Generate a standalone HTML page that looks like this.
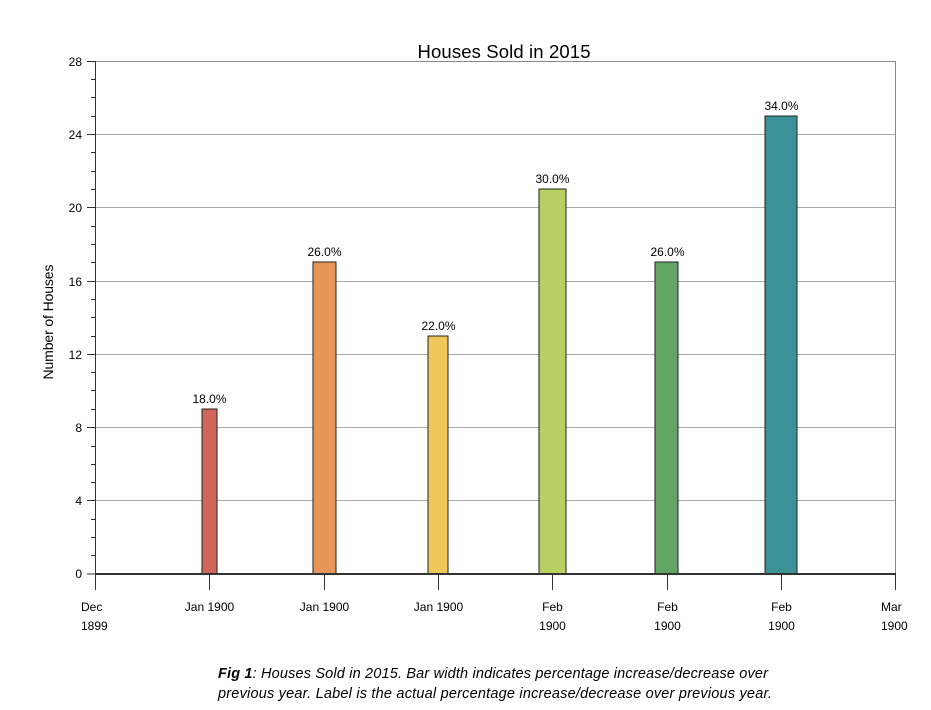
<!DOCTYPE html>
<html><head><meta charset="utf-8"><style>
body{margin:0;background:#fff;width:931px;height:705px;overflow:hidden}
text{font-family:"Liberation Sans",sans-serif;fill:#000}
</style></head><body>
<svg width="931" height="705" xmlns="http://www.w3.org/2000/svg">
<text x="504" y="58" font-size="18.5" text-anchor="middle" textLength="173">Houses Sold in 2015</text>
<g stroke="#aaa" stroke-width="1">
<line x1="96" y1="61.5" x2="895" y2="61.5" stroke="#888"/>
<line x1="96" y1="134.5" x2="895" y2="134.5"/>
<line x1="96" y1="207.5" x2="895" y2="207.5"/>
<line x1="96" y1="281.5" x2="895" y2="281.5"/>
<line x1="96" y1="354.5" x2="895" y2="354.5"/>
<line x1="96" y1="427.5" x2="895" y2="427.5"/>
<line x1="96" y1="500.5" x2="895" y2="500.5"/>
<line x1="895.5" y1="61" x2="895.5" y2="574" stroke="#888"/>
</g>
<g stroke="#333" stroke-width="1">
<line x1="95.5" y1="61" x2="95.5" y2="574"/>
<path d="M87 61.5H96M87 134.5H96M87 207.5H96M87 281.5H96M87 354.5H96M87 427.5H96M87 500.5H96M87 574H96"/>
<path d="M91 79.5H96M91 97.5H96M91 116.5H96M91 152.5H96M91 171.5H96M91 189.5H96M91 226.5H96M91 244.5H96M91 262.5H96M91 299.5H96M91 317.5H96M91 336.5H96M91 372.5H96M91 390.5H96M91 409.5H96M91 446.5H96M91 464.5H96M91 482.5H96M91 519.5H96M91 537.5H96M91 555.5H96"/>
<path d="M95.5 574V590M209.5 574V590M324.5 574V590M438.5 574V590M552.5 574V590M667.5 574V590M781.5 574V590M895.5 574V590"/>
</g>
<g font-size="12" text-anchor="end">
<text x="82" y="66">28</text><text x="82" y="139">24</text><text x="82" y="212">20</text><text x="82" y="286">16</text><text x="82" y="359">12</text><text x="82" y="432">8</text><text x="82" y="505">4</text><text x="82" y="578">0</text>
</g>
<text transform="translate(53,322) rotate(-90)" font-size="14" text-anchor="middle" textLength="115">Number of Houses</text>
<g stroke="#222" stroke-width="1">
<rect x="202" y="409" width="15" height="165" fill="#d0665a"/>
<rect x="313" y="262" width="23" height="312" fill="#e8955a"/>
<rect x="428" y="336" width="20" height="238" fill="#f0c75a"/>
<rect x="539" y="189" width="27" height="385" fill="#b8cf62"/>
<rect x="655" y="262" width="23" height="312" fill="#62a665"/>
<rect x="765" y="116" width="32" height="458" fill="#3a9296"/>
</g>
<line x1="95" y1="574" x2="896" y2="574" stroke="#333" stroke-width="2"/>
<g font-size="12" text-anchor="middle">
<text x="209.5" y="403">18.0%</text><text x="324.5" y="256">26.0%</text><text x="438.5" y="330">22.0%</text>
<text x="552.5" y="183">30.0%</text><text x="667.5" y="256">26.0%</text><text x="781.5" y="110">34.0%</text>
</g>
<g font-size="12">
<text x="81" y="611">Dec</text><text x="81" y="630">1899</text>
<text x="209.5" y="611" text-anchor="middle">Jan 1900</text>
<text x="324.5" y="611" text-anchor="middle">Jan 1900</text>
<text x="438.5" y="611" text-anchor="middle">Jan 1900</text>
<text x="552.5" y="611" text-anchor="middle">Feb</text><text x="552.5" y="630" text-anchor="middle">1900</text>
<text x="667.5" y="611" text-anchor="middle">Feb</text><text x="667.5" y="630" text-anchor="middle">1900</text>
<text x="781.5" y="611" text-anchor="middle">Feb</text><text x="781.5" y="630" text-anchor="middle">1900</text>
<text x="881" y="611">Mar</text><text x="881" y="630">1900</text>
</g>
<g font-size="14.5" font-style="italic">
<text x="218" y="678" textLength="550"><tspan font-weight="bold">Fig 1</tspan>: Houses Sold in 2015. Bar width indicates percentage increase/decrease over</text>
<text x="218" y="698" textLength="554">previous year. Label is the actual percentage increase/decrease over previous year.</text>
</g>
</svg>
</body></html>
